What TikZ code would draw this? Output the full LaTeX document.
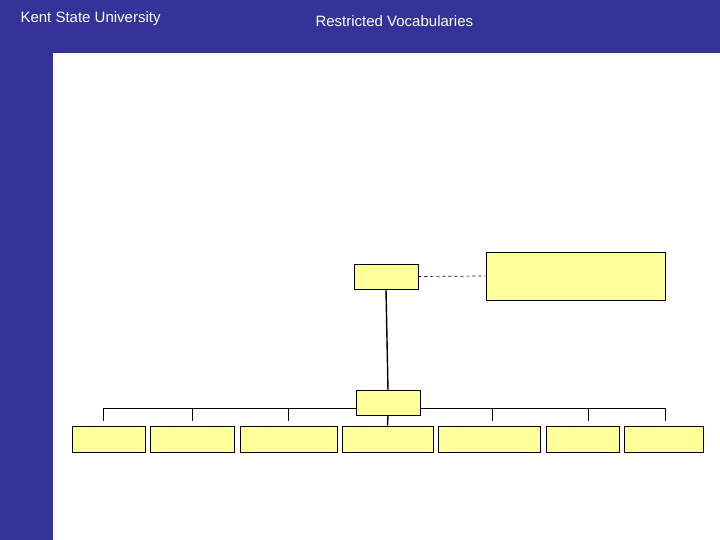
\documentclass[tikz,border=0pt]{standalone}
\usepackage{fontspec}
\setmainfont{Liberation Sans}
\definecolor{bg}{HTML}{333399}
\definecolor{bx}{HTML}{FFFF99}
\begin{document}
\begin{tikzpicture}[x=1pt,y=-1pt,
  box/.style={draw=black,fill=bx,line width=0.8pt,minimum height=25pt,inner sep=0pt},
  ln/.style={line width=0.7pt}]
\fill[bg] (0,0) rectangle (720,540);
\fill[white] (53,53) rectangle (720,540);
\useasboundingbox (0,0) rectangle (720,540);
\node[text=white,font=\fontsize{15}{18}\selectfont,anchor=west] (t1) at (17,19) {Kent State University};
\node[text=white,font=\fontsize{15}{18}\selectfont,anchor=west] (t2) at (312,21) {Restricted Vocabularies};
\node[box,minimum width=64pt] (top) at (386,276.5) {};
\node[box,minimum width=179pt,minimum height=48pt] (right) at (575.5,276) {};
\node[box,minimum width=64pt] (mid) at (388,403) {};
\foreach \n/\a/\b in {b1/72/145,b2/150/234,b3/240/337,b4/342/433,b5/438/540,b6/546/619,b7/624/703}
  \node[box,minimum width={\b-\a},minimum height=26pt] (\n) at ({(\a+\b)/2},439) {};
\draw[dashed,ln] (top.east) -- (right.west);
\draw[line width=1.4pt] (top.south) -- (mid.north);
\draw[line width=1.4pt] (mid.south) -- (b4.north);
\draw[ln] (103,408) coordinate (L) -- (mid.west |- L);
\draw[ln] (mid.east |- L) -- (665,408) coordinate (R);
\foreach \x in {103,192,288,492,588,665}
  \draw[ln] (\x,408) -- (\x,421);
\end{tikzpicture}
\end{document}
